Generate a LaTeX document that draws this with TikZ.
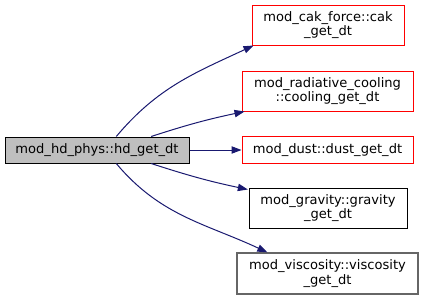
\documentclass[tikz,border=0pt]{standalone}
\usepackage{fontspec}
\setmainfont{DejaVu Sans}
\usetikzlibrary{arrows.meta}
\definecolor{callEdge}{HTML}{191970}
\definecolor{callerFill}{HTML}{BFBFBF}
\definecolor{undocRed}{HTML}{FF0000}
\definecolor{hiddenGrey}{HTML}{666666}
\tikzset{
  font=\fontsize{9.8pt}{11pt}\selectfont,
  caller/.style={rectangle, draw=black, line width=0.75pt, fill=callerFill,
                 align=center, inner sep=0pt,
                 minimum width=138pt, minimum height=19.5pt},
  calleered/.style={rectangle, draw=undocRed, line width=0.75pt, fill=white,
                    align=center, inner sep=0pt, minimum height=30pt},
  calleeblack/.style={rectangle, draw=black, line width=0.75pt, fill=white,
                      align=center, inner sep=0pt, minimum height=30pt},
  calleegrey/.style={rectangle, draw=hiddenGrey, line width=1pt, fill=white,
                     align=center, inner sep=0pt, minimum height=30.75pt},
  call/.style={-{Triangle[length=7.5pt, width=5.5pt]}, draw=callEdge,
               line width=0.75pt},
}

\begin{document}
\begin{tikzpicture}[x=0.75pt, y=0.75pt]
\useasboundingbox (0,0) rectangle (424,-300);

% --- caller ---
\node[caller] (hd) at (97,-150) {mod\_hd\_phys::hd\_get\_dt};

% --- callees ---
\node[calleered, minimum width=114pt] (cak) at (328,-25)
  {mod\_cak\_force::cak\\\_get\_dt};
\node[calleered, minimum width=128.25pt] (cooling) at (327.5,-91)
  {mod\_radiative\_cooling\\::cooling\_get\_dt};
\node[calleered, minimum width=128.25pt, minimum height=20.25pt] (dust) at (327.5,-150)
  {mod\_dust::dust\_get\_dt};
\node[calleeblack, minimum width=118.5pt] (gravity) at (328,-208)
  {mod\_gravity::gravity\\\_get\_dt};
\node[calleegrey, minimum width=135.75pt] (visc) at (327.5,-273.5)
  {mod\_viscosity::viscosity\\\_get\_dt};

% --- calls ---
\draw[call] (hd.35.8) to[out=50, in=205] ([xshift=1.5pt]cak.south west);
\draw[call] (hd.14.3) to[out=18, in=192] ([xshift=2.25pt]cooling.south west);
\draw[call] (hd.east) -- (dust.west);
\draw[call] (hd.-14.3) to[out=-18, in=168] ([xshift=-0.5pt, yshift=-1.5pt]gravity.north west);
\draw[call] (hd.-35.8) to[out=-50, in=155] ([xshift=23.25pt]visc.north west);

\end{tikzpicture}
\end{document}
